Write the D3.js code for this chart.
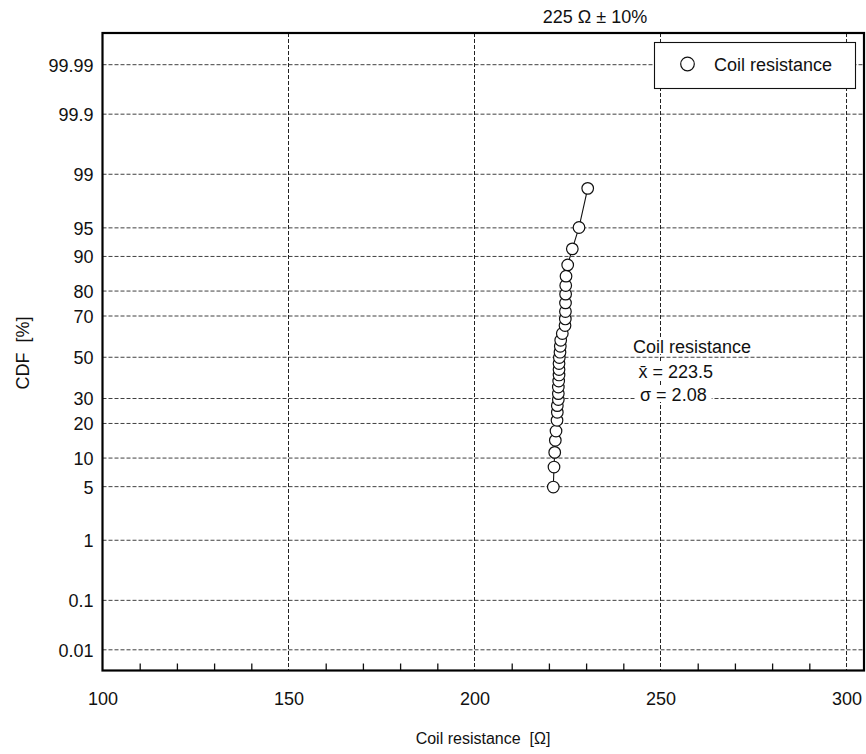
<!DOCTYPE html>
<html>
<head>
<meta charset="utf-8">
<script src="https://cdn.jsdelivr.net/npm/d3@7/dist/d3.min.js"></script>
<style>
  html, body { margin: 0; padding: 0; background: #fff; }
  svg { display: block; }
  text { font-family: "Liberation Sans", Arial, Helvetica, sans-serif; fill: #111; }
</style>
</head>
<body>
<svg id="chart" width="866" height="754"></svg>
<script>
// Measured coil resistance (ohm), sorted ascending
const resistance = [
  221.18, 221.37, 221.56, 221.72, 221.91, 222.18, 222.26, 222.26, 222.53, 222.53,
  222.53, 222.63, 222.72, 222.72, 222.72, 222.80, 222.98, 223.06, 223.17, 223.60,
  224.33, 224.41, 224.44, 224.46, 224.49, 224.52, 224.60, 225.05, 226.29, 228.09,
  230.43
];
// Cumulative probability of each sample (%)
const cdfPercent = [
  4.95, 8.14, 11.33, 14.55, 17.41, 21.13, 24.20, 26.93, 29.53, 32.20,
  35.27, 38.13, 41.10, 43.80, 46.81, 49.84, 52.55, 55.57, 58.55, 61.87,
  65.65, 68.69, 71.94, 75.52, 78.87, 81.91, 84.87, 87.98, 91.59, 95.05,
  98.41
];
const xTicks = [100, 150, 200, 250, 300];
const xMinorTicks = [110, 120, 130, 140, 160, 170, 180, 190, 210, 220, 230, 240, 260, 270, 280, 290];
const yTicks = [0.01, 0.1, 1, 5, 10, 20, 30, 50, 70, 80, 90, 95, 99, 99.9, 99.99];
const yTickLabels = ["0.01", "0.1", "1", "5", "10", "20", "30", "50", "70", "80", "90", "95", "99", "99.9", "99.99"];
const xDomain = [100, 304.7];
const zDomain = [-3.982, 4.122]; // normal-quantile span of the plot area

const seriesName = "Coil resistance";
const titleText = "225 \u03A9 \u00B1 10%";
const xLabel = "Coil resistance  [\u03A9]";
const yLabel = "CDF  [%]";
const statLines = ["Coil resistance", "x\u0304 = 223.5", "\u03C3 = 2.08"];

// Inverse standard normal CDF (Acklam's rational approximation)
function probit(p) {
  const a = [-3.969683028665376e+01, 2.209460984245205e+02, -2.759285104469687e+02, 1.383577518672690e+02, -3.066479806614716e+01, 2.506628277459239e+00];
  const b = [-5.447609879822406e+01, 1.615858368580409e+02, -1.556989798598866e+02, 6.680131188771972e+01, -1.328068155288572e+01];
  const c = [-7.784894002430293e-03, -3.223964580411365e-01, -2.400758277161838e+00, -2.549671636908416e+00, 4.374664141464968e+00, 2.938163982698783e+00];
  const d = [7.784695709041462e-03, 3.224671290700398e-01, 2.445134137142996e+00, 3.754408661907416e+00];
  const pl = 0.02425, ph = 1 - pl;
  let q, r;
  if (p < pl) {
    q = Math.sqrt(-2 * Math.log(p));
    return (((((c[0]*q+c[1])*q+c[2])*q+c[3])*q+c[4])*q+c[5]) / ((((d[0]*q+d[1])*q+d[2])*q+d[3])*q+1);
  } else if (p <= ph) {
    q = p - 0.5; r = q * q;
    return (((((a[0]*r+a[1])*r+a[2])*r+a[3])*r+a[4])*r+a[5])*q / (((((b[0]*r+b[1])*r+b[2])*r+b[3])*r+b[4])*r+1);
  } else {
    q = Math.sqrt(-2 * Math.log(1 - p));
    return -(((((c[0]*q+c[1])*q+c[2])*q+c[3])*q+c[4])*q+c[5]) / ((((d[0]*q+d[1])*q+d[2])*q+d[3])*q+1);
  }
}

const svg = d3.select("#chart");
const plotL = 102.5, plotR = 864, plotT = 33, plotB = 670.5;
const FS = 18;

const x = d3.scaleLinear().domain(xDomain).range([plotL, plotR]);
const z = d3.scaleLinear().domain(zDomain).range([plotB, plotT]);
const y = pct => z(probit(pct / 100));

// Grid lines
const grid = svg.append("g").attr("class", "grid");
grid.selectAll("line.h").data(yTicks).join("line")
  .attr("class", "h")
  .attr("x1", plotL).attr("x2", plotR)
  .attr("y1", d => y(d)).attr("y2", d => y(d))
  .attr("stroke", "#404040").attr("stroke-width", 1)
  .attr("stroke-dasharray", "4,2");
grid.selectAll("line.v").data(xTicks.filter(t => t > xDomain[0])).join("line")
  .attr("class", "v")
  .attr("x1", d => x(d)).attr("x2", d => x(d))
  .attr("y1", plotT).attr("y2", plotB)
  .attr("stroke", "#222").attr("stroke-width", 1)
  .attr("stroke-dasharray", "4,2");

// Minor ticks on the bottom edge, pointing inward
svg.append("g")
  .attr("transform", `translate(0,${plotB})`)
  .call(d3.axisBottom(x).tickValues(xMinorTicks).tickSize(-7).tickFormat(""))
  .call(g => g.select(".domain").remove())
  .call(g => g.selectAll("line").attr("stroke", "#111").attr("stroke-width", 1.3));

// X tick labels
svg.append("g")
  .attr("transform", `translate(0,${plotB})`)
  .call(d3.axisBottom(x).tickValues(xTicks).tickSize(0).tickPadding(0).tickFormat(d3.format("d")))
  .call(g => g.select(".domain").remove())
  .call(g => g.selectAll("text")
    .attr("dy", null).attr("y", 34.5)
    .attr("font-size", FS).style("font-family", "'Liberation Sans', Arial, sans-serif").attr("fill", "#111"));

// Y tick labels
svg.append("g")
  .attr("transform", `translate(${plotL},0)`)
  .call(d3.axisLeft(z).tickValues(yTicks.map(p => probit(p / 100))).tickSize(0).tickPadding(9)
    .tickFormat((d, i) => yTickLabels[i]))
  .call(g => g.select(".domain").remove())
  .call(g => g.selectAll("text")
    .attr("font-size", FS).attr("dy", "0.36em")
    .style("font-family", "'Liberation Sans', Arial, sans-serif").attr("fill", "#111"));

// Statistics annotation with white backing boxes
const statX = [633, 638.5, 640];
const statY = [352.7, 377.5, 400.5];
const stats = svg.append("g");
statLines.forEach((s, i) => {
  const t = stats.append("text")
    .attr("x", statX[i]).attr("y", statY[i])
    .attr("font-size", FS).text(s);
  const bb = t.node().getBBox();
  stats.insert("rect", "text")
    .attr("x", bb.x - 5).attr("y", bb.y + 1.5)
    .attr("width", bb.width + 10).attr("height", bb.height - 4)
    .attr("fill", "#fff");
});

// Series: connecting line and markers
const pts = resistance.map((r, i) => [x(r), y(cdfPercent[i])]);
svg.append("path")
  .attr("d", d3.line()(pts))
  .attr("fill", "none").attr("stroke", "#111").attr("stroke-width", 1.1);
svg.append("g").selectAll("circle").data(pts).join("circle")
  .attr("cx", d => d[0]).attr("cy", d => d[1]).attr("r", 5.8)
  .attr("fill", "#fff").attr("stroke", "#111").attr("stroke-width", 1.2);

// Plot frame
svg.append("rect")
  .attr("x", plotL).attr("y", plotT)
  .attr("width", plotR - plotL).attr("height", plotB - plotT)
  .attr("fill", "none").attr("stroke", "#000").attr("stroke-width", 2.2);

// Legend
const lg = svg.append("g");
lg.append("rect")
  .attr("x", 654.5).attr("y", 42.5).attr("width", 201).attr("height", 46)
  .attr("fill", "#fff").attr("stroke", "#111").attr("stroke-width", 1.1);
lg.append("circle")
  .attr("cx", 687.5).attr("cy", 64).attr("r", 6.8)
  .attr("fill", "#fff").attr("stroke", "#111").attr("stroke-width", 1.2);
lg.append("text")
  .attr("x", 714).attr("y", 70.5).attr("font-size", FS).text(seriesName);

// Title
svg.append("text")
  .attr("x", 595).attr("y", 23.3).attr("text-anchor", "middle")
  .attr("font-size", FS).text(titleText);

// Axis labels
svg.append("text")
  .attr("x", 483).attr("y", 744).attr("text-anchor", "middle")
  .attr("font-size", 16).style("white-space", "pre").text(xLabel);
svg.append("text")
  .attr("transform", "translate(29,353) rotate(-90)")
  .attr("text-anchor", "middle")
  .attr("font-size", FS).style("white-space", "pre").text(yLabel);
</script>
</body>
</html>
